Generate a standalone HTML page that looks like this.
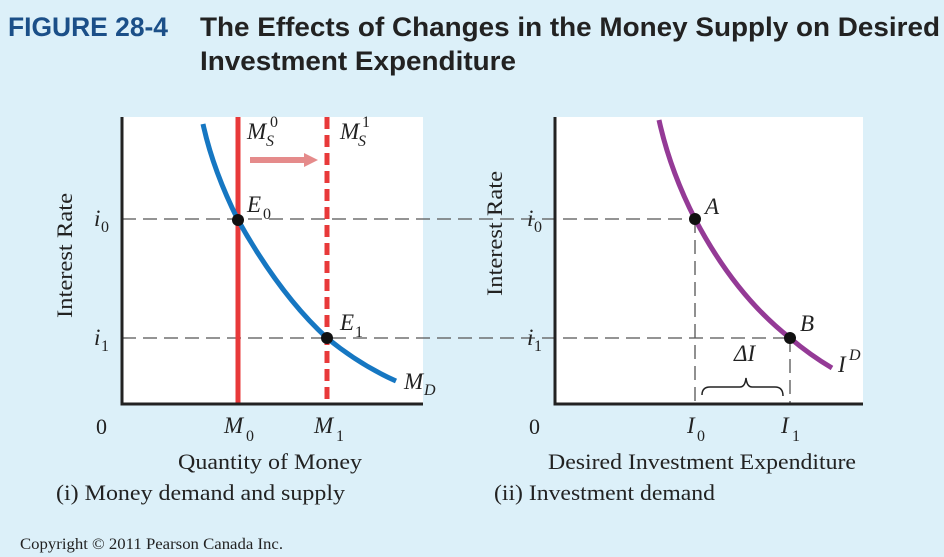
<!DOCTYPE html>
<html><head><meta charset="utf-8"><style>
body{margin:0;background:#dcf0f9;}
svg{display:block}
</style></head><body>
<svg width="944" height="557" xmlns="http://www.w3.org/2000/svg">
<rect width="944" height="557" fill="#dcf0f9"/>
<text x="8" y="36" font-family="Liberation Sans Narrow, Liberation Sans, sans-serif" font-weight="bold" font-size="27" fill="#1b4f88" textLength="160" lengthAdjust="spacingAndGlyphs">FIGURE 28-4</text>
<text x="200" y="36" font-family="Liberation Sans Narrow, Liberation Sans, sans-serif" font-weight="bold" font-size="27" fill="#222" textLength="740" lengthAdjust="spacingAndGlyphs">The Effects of Changes in the Money Supply on Desired</text>
<text x="200" y="70" font-family="Liberation Sans Narrow, Liberation Sans, sans-serif" font-weight="bold" font-size="27" fill="#222" textLength="316" lengthAdjust="spacingAndGlyphs">Investment Expenditure</text>
<rect x="122" y="117" width="301" height="287" fill="#fff"/>
<rect x="555" y="117" width="308" height="287" fill="#fff"/>
<g stroke="#555" stroke-width="1.3" stroke-dasharray="14,7" fill="none">
<line x1="122" y1="219" x2="695" y2="219"/>
<line x1="122" y1="338" x2="790" y2="338"/>
<line x1="695" y1="219" x2="695" y2="404"/>
<line x1="790" y1="338" x2="790" y2="404"/>
</g>
<line x1="238" y1="117" x2="238" y2="404" stroke="#e8393a" stroke-width="5"/>
<line x1="327" y1="117" x2="327" y2="404" stroke="#e8393a" stroke-width="5" stroke-dasharray="12,6"/>
<line x1="250" y1="160" x2="306" y2="160" stroke="#e58b8b" stroke-width="6"/>
<polygon points="304,153 318,160 304,167" fill="#e58b8b"/>
<path d="M203,124 Q213,170 238,220 Q280,295 327,338 Q360,365 396,381" stroke="#1677c2" stroke-width="5" fill="none"/>
<path d="M659,120 Q670,170 695,219 Q735,295 790,338 Q810,355 832,368" stroke="#943a96" stroke-width="5" fill="none"/>
<g stroke="#222" stroke-width="3">
<line x1="122" y1="117" x2="122" y2="405.5"/>
<line x1="120.5" y1="404" x2="423" y2="404"/>
<line x1="555" y1="117" x2="555" y2="405.5"/>
<line x1="553.5" y1="404" x2="863" y2="404"/>
</g>
<g fill="#111"><circle cx="238" cy="220" r="6"/><circle cx="327" cy="338" r="6"/><circle cx="695" cy="219" r="6"/><circle cx="790" cy="338" r="6"/></g>
<path d="M702,395 Q702,387 710,387 L740,387 Q745,387 746,378 Q747,387 752,387 L775,387 Q783,387 783,396" stroke="#222" stroke-width="1.5" fill="none"/>
<g font-family="Liberation Serif, serif" fill="#222" font-size="23">
<g font-style="italic">
<text x="247" y="139">M</text><text x="340" y="139">M</text>
<text x="247" y="212">E</text><text x="340" y="330">E</text>
<text x="404" y="389">M</text>
<text x="705" y="214">A</text><text x="800" y="331">B</text>
<text x="838" y="372">I</text>
<text x="94" y="226">i</text><text x="94" y="345">i</text>
<text x="527" y="226">i</text><text x="527" y="345">i</text>
<text x="224" y="433">M</text><text x="314" y="433">M</text>
<text x="687" y="433">I</text><text x="781" y="433">I</text>
<text x="734" y="361">ΔI</text>
</g>
<g font-size="16">
<text x="270" y="127">0</text><text x="362" y="127">1</text>
<text x="266" y="146" font-style="italic">S</text><text x="358" y="146" font-style="italic">S</text>
<text x="263" y="219">0</text><text x="355" y="337">1</text>
<text x="424" y="395" font-style="italic">D</text>
<text x="849" y="360" font-style="italic">D</text>
<text x="101" y="232">0</text><text x="101" y="351">1</text>
<text x="534" y="232">0</text><text x="534" y="351">1</text>
<text x="246" y="441">0</text><text x="336" y="441">1</text>
<text x="697" y="441">0</text><text x="792" y="441">1</text>
</g>
<text x="96" y="434" font-size="22">0</text><text x="529" y="434" font-size="22">0</text>
<text x="178" y="469" font-size="22" textLength="184" lengthAdjust="spacingAndGlyphs">Quantity of Money</text>
<text x="548" y="469" font-size="22" textLength="308" lengthAdjust="spacingAndGlyphs">Desired Investment Expenditure</text>
<text x="56" y="500" font-size="22" textLength="289" lengthAdjust="spacingAndGlyphs">(i) Money demand and supply</text>
<text x="494" y="500" font-size="22" textLength="221" lengthAdjust="spacingAndGlyphs">(ii) Investment demand</text>
<text transform="translate(72,318) rotate(-90)" font-size="22" textLength="125" lengthAdjust="spacingAndGlyphs">Interest Rate</text>
<text transform="translate(502,296) rotate(-90)" font-size="22" textLength="125" lengthAdjust="spacingAndGlyphs">Interest Rate</text>
<text x="20" y="549" font-size="16" textLength="263" lengthAdjust="spacingAndGlyphs">Copyright © 2011 Pearson Canada Inc.</text>
</g>
</svg>
</body></html>
